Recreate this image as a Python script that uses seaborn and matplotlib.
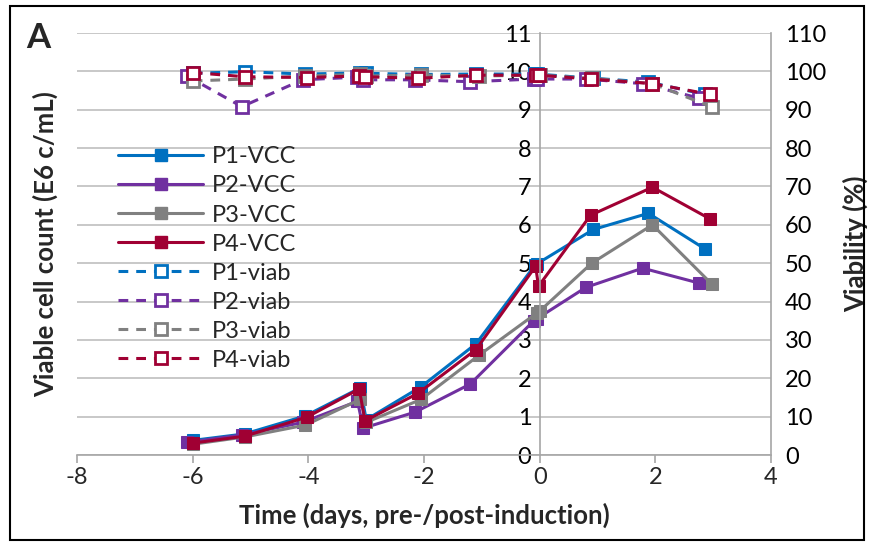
import pandas as pd
import matplotlib
matplotlib.use("Agg")
import matplotlib.pyplot as plt
from matplotlib.patches import Rectangle
from matplotlib.lines import Line2D
import seaborn as sb

# time points (days) per run - Excel scatter, slight offsets between runs
t_p1 = [-6.0, -5.1, -4.05, -3.1, -3.0, -2.05, -1.1, -0.08, -0.05, 0.93, 1.88, 2.86]
t_p2 = [-6.1, -5.15, -4.1, -3.15, -3.05, -2.15, -1.2, -0.1, -0.05, 0.8, 1.78, 2.76]
t_p3 = [-6.0, -5.1, -4.05, -3.1, -3.0, -2.05, -1.05, -0.05, 0.0, 0.9, 1.95, 2.98]
t_p4 = [-6.0, -5.1, -4.02, -3.12, -3.02, -2.1, -1.1, -0.07, -0.02, 0.88, 1.95, 2.95]

# viable cell count (E6 c/mL)
vcc_p1 = [0.38, 0.55, 1.02, 1.75, 0.92, 1.78, 2.9, 4.95, 4.98, 5.88, 6.3, 5.37]
vcc_p2 = [0.33, 0.52, 0.85, 1.4, 0.7, 1.12, 1.85, 3.5, 3.55, 4.37, 4.87, 4.48]
vcc_p3 = [0.28, 0.47, 0.78, 1.45, 0.85, 1.45, 2.6, 3.7, 3.75, 5.0, 6.0, 4.45]
vcc_p4 = [0.31, 0.49, 0.99, 1.72, 0.89, 1.61, 2.75, 4.92, 4.4, 6.25, 6.98, 6.15]

# viability (%)
via_p1 = [99.5, 99.9, 99.3, 99.6, 99.5, 99.2, 99.3, 99.3, 99.3, 98.2, 97.2, 94.0]
via_p2 = [98.8, 90.8, 97.8, 98.5, 97.8, 97.8, 97.3, 98.0, 98.0, 98.0, 96.8, 93.0]
via_p3 = [97.5, 98.0, 98.8, 99.2, 98.8, 99.0, 98.8, 99.0, 99.0, 98.2, 96.8, 90.7]
via_p4 = [99.7, 98.6, 98.4, 98.8, 98.6, 98.2, 99.0, 99.0, 99.0, 98.0, 96.8, 94.0]

runs = ["P1", "P2", "P3", "P4"]
colors = ["#0070C0", "#7030A0", "#808080", "#A00033"]

times = [t_p1, t_p2, t_p3, t_p4]
vccs = [vcc_p1, vcc_p2, vcc_p3, vcc_p4]
vias = [via_p1, via_p2, via_p3, via_p4]

rows = []
for run, t, v, w in zip(runs, times, vccs, vias):
    for i in range(len(t)):
        rows.append({"run": run, "order": i, "time": t[i], "vcc": v[i], "viab": w[i]})
df = pd.DataFrame(rows)

sb.set_theme(style="white")
plt.rcParams["font.family"] = ["Lato", "DejaVu Sans"]
plt.rcParams["axes.unicode_minus"] = False

fig = plt.figure(figsize=(8.7, 5.46), dpi=100)
ax = fig.add_axes([77 / 870, 1 - 455 / 546, (771 - 77) / 870, (455 - 33) / 546])
ax2 = ax.twinx()

dash = (0, (3.2, 2.6))
for run, c in zip(runs, colors):
    d = df[df.run == run]
    sb.lineplot(data=d, x="time", y="vcc", ax=ax, color=c, marker="s", markersize=8,
                markeredgecolor=c, linewidth=2.2, sort=False, estimator=None)
    sb.lineplot(data=d, x="time", y="viab", ax=ax2, color=c, marker="s", markersize=9,
                markerfacecolor="white", markeredgecolor=c, markeredgewidth=2,
                linewidth=2.2, linestyle=dash, sort=False, estimator=None)

grid_c = "#BFBFBF"
ax.set_xlim(-8, 4)
ax.set_ylim(0, 11)
ax2.set_ylim(0, 110)
ax.set_xticks(range(-8, 5, 2))
ax.set_yticks(range(0, 12))
ax2.set_yticks(range(0, 111, 10))
ax.yaxis.grid(True, color=grid_c, linewidth=1.2)
ax.xaxis.grid(False)
ax2.grid(False)

ax.spines["top"].set_visible(False)
ax2.spines["top"].set_visible(False)
ax2.spines["left"].set_visible(False)
ax2.spines["bottom"].set_visible(False)
ax.spines["right"].set_visible(False)
ax.spines["left"].set_position(("data", 0))
for sp in [ax.spines["left"], ax.spines["bottom"], ax2.spines["right"]]:
    sp.set_color("#A6A6A6")
    sp.set_linewidth(1.2)

ax.tick_params(axis="y", length=0, labelsize=17, pad=6, colors="black")
ax.tick_params(axis="x", length=6, width=1.2, color="#A6A6A6", direction="out",
               labelsize=17, pad=3, bottom=True)
ax2.tick_params(axis="y", length=0, labelsize=17, pad=10, colors="black")

ax.set_xlabel("Time (days, pre-/post-induction)", fontsize=18.5, fontweight="bold", labelpad=10)
ax.set_ylabel("")
ax2.set_ylabel("Viability (%)", fontsize=18.5, fontweight="bold", labelpad=12)
fig.text(45 / 870, 1 - 244 / 546, "Viable cell count (E6 c/mL)", rotation=90,
         ha="center", va="center", fontsize=18.5, fontweight="bold")
fig.text(26 / 870, 1 - 38 / 546, "A", fontsize=25, fontweight="bold", ha="left", va="center")

# legend
handles = []
labels = []
for run, c in zip(runs, colors):
    handles.append(Line2D([], [], color=c, marker="s", markersize=8, linewidth=2.2))
    labels.append(f"{run}-VCC")
for run, c in zip(runs, colors):
    handles.append(Line2D([], [], color=c, marker="s", markersize=8, markerfacecolor="white",
                          markeredgewidth=2, linewidth=2.2, linestyle=dash))
    labels.append(f"{run}-viab")
ax2.legend(handles, labels, loc="upper left", bbox_to_anchor=(32 / 694, 1 - 104 / 422),
           frameon=False, fontsize=17, handlelength=3.6, handletextpad=0.35,
           labelspacing=0.34, borderaxespad=0)

fig.patches.append(Rectangle((10 / 870, 6 / 546), 854 / 870, 534 / 546, transform=fig.transFigure,
                             fill=False, edgecolor="black", linewidth=1.5))

fig.savefig("out.png", dpi=100)
